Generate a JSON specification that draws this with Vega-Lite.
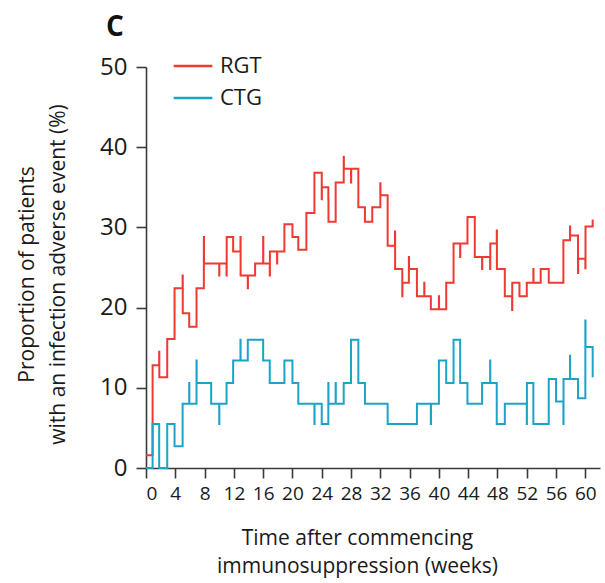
{
  "$schema": "https://vega.github.io/schema/vega-lite/v6.json",
  "autosize": {"type": "none"},
  "width": 454,
  "height": 401,
  "padding": {"left": 146, "top": 67, "right": 5, "bottom": 115},
  "config": {
    "font": "Open Sans",
    "view": {"stroke": null},
    "axis": {"grid": false, "domainColor": "#3a3a3a", "tickColor": "#3a3a3a", "domainWidth": 1.6, "tickWidth": 1.6, "labelColor": "#1a1a1a", "titleColor": "#1a1a1a", "titleFontWeight": "normal"}
  },
  "title": {"text": "C", "anchor": "start", "frame": "group", "dx": -40, "offset": -19, "baseline": "alphabetic", "fontSize": 28, "fontWeight": "bold", "color": "#111111", "font": "Open Sans"},
  "data": {"values": [
    {"g":"RGT","x":0,"y":1.6},{"g":"RGT","x":0.9,"y":12.8},{"g":"RGT","x":1.8,"y":14.5},{"g":"RGT","x":1.82,"y":11.3},
    {"g":"RGT","x":2.9,"y":16.1},{"g":"RGT","x":3.9,"y":22.4},{"g":"RGT","x":5.0,"y":24.0},{"g":"RGT","x":5.02,"y":19.3},
    {"g":"RGT","x":5.9,"y":17.6},{"g":"RGT","x":6.9,"y":22.4},{"g":"RGT","x":7.9,"y":28.8},{"g":"RGT","x":7.92,"y":25.5},
    {"g":"RGT","x":10.0,"y":24.0},{"g":"RGT","x":10.02,"y":25.5},{"g":"RGT","x":11.0,"y":24.0},{"g":"RGT","x":11.02,"y":28.8},
    {"g":"RGT","x":11.9,"y":27.0},{"g":"RGT","x":12.9,"y":28.8},{"g":"RGT","x":12.92,"y":24.0},{"g":"RGT","x":13.9,"y":22.4},
    {"g":"RGT","x":13.92,"y":24.0},{"g":"RGT","x":14.9,"y":25.5},{"g":"RGT","x":16.0,"y":28.8},{"g":"RGT","x":16.02,"y":25.5},
    {"g":"RGT","x":16.9,"y":24.0},{"g":"RGT","x":16.92,"y":27.0},{"g":"RGT","x":17.9,"y":25.5},{"g":"RGT","x":17.92,"y":27.0},
    {"g":"RGT","x":18.9,"y":30.4},{"g":"RGT","x":20.0,"y":28.8},{"g":"RGT","x":20.8,"y":27.2},{"g":"RGT","x":21.9,"y":31.8},
    {"g":"RGT","x":23.0,"y":36.8},{"g":"RGT","x":24.0,"y":33.5},{"g":"RGT","x":24.02,"y":35.0},{"g":"RGT","x":24.9,"y":33.5},
    {"g":"RGT","x":24.92,"y":30.7},{"g":"RGT","x":25.9,"y":35.6},{"g":"RGT","x":27.0,"y":38.8},{"g":"RGT","x":27.02,"y":37.3},
    {"g":"RGT","x":28.0,"y":35.6},{"g":"RGT","x":28.02,"y":37.3},{"g":"RGT","x":29.0,"y":32.5},{"g":"RGT","x":29.9,"y":30.7},
    {"g":"RGT","x":30.9,"y":32.5},{"g":"RGT","x":32.0,"y":35.5},{"g":"RGT","x":32.02,"y":34.0},{"g":"RGT","x":33.0,"y":27.7},
    {"g":"RGT","x":34.0,"y":29.5},{"g":"RGT","x":34.02,"y":24.8},{"g":"RGT","x":35.0,"y":21.4},{"g":"RGT","x":35.02,"y":23.1},
    {"g":"RGT","x":35.9,"y":26.3},{"g":"RGT","x":35.92,"y":24.8},{"g":"RGT","x":37.0,"y":21.4},{"g":"RGT","x":38.0,"y":23.1},
    {"g":"RGT","x":38.02,"y":21.4},{"g":"RGT","x":38.9,"y":19.8},{"g":"RGT","x":40.0,"y":21.4},{"g":"RGT","x":40.02,"y":19.8},
    {"g":"RGT","x":41.0,"y":23.1},{"g":"RGT","x":42.0,"y":28.0},{"g":"RGT","x":42.9,"y":26.3},{"g":"RGT","x":42.92,"y":28.0},
    {"g":"RGT","x":43.9,"y":31.3},{"g":"RGT","x":44.9,"y":26.3},{"g":"RGT","x":45.9,"y":24.8},{"g":"RGT","x":45.92,"y":26.3},
    {"g":"RGT","x":47.0,"y":24.8},{"g":"RGT","x":47.02,"y":28.0},{"g":"RGT","x":47.9,"y":29.6},{"g":"RGT","x":47.92,"y":24.8},
    {"g":"RGT","x":49.0,"y":21.4},{"g":"RGT","x":50.0,"y":19.7},{"g":"RGT","x":50.02,"y":23.1},{"g":"RGT","x":51.0,"y":21.4},
    {"g":"RGT","x":52.0,"y":23.1},{"g":"RGT","x":52.9,"y":24.8},{"g":"RGT","x":52.92,"y":23.1},{"g":"RGT","x":53.9,"y":24.8},
    {"g":"RGT","x":55.0,"y":23.1},{"g":"RGT","x":57.0,"y":28.4},{"g":"RGT","x":57.9,"y":30.1},{"g":"RGT","x":57.92,"y":29.0},
    {"g":"RGT","x":59.0,"y":24.3},{"g":"RGT","x":59.02,"y":26.1},{"g":"RGT","x":60.0,"y":24.9},{"g":"RGT","x":60.02,"y":30.1},
    {"g":"RGT","x":61.0,"y":31.0},
    {"g":"CTG","x":0,"y":0},{"g":"CTG","x":0.9,"y":5.5},{"g":"CTG","x":1.8,"y":0},{"g":"CTG","x":2.9,"y":5.5},
    {"g":"CTG","x":3.9,"y":2.7},{"g":"CTG","x":5.0,"y":8.0},{"g":"CTG","x":5.9,"y":10.6},{"g":"CTG","x":5.92,"y":8.0},
    {"g":"CTG","x":6.9,"y":13.4},{"g":"CTG","x":6.92,"y":10.6},{"g":"CTG","x":8.9,"y":8.0},{"g":"CTG","x":10.0,"y":5.5},
    {"g":"CTG","x":10.02,"y":8.0},{"g":"CTG","x":11.0,"y":10.6},{"g":"CTG","x":11.9,"y":13.4},{"g":"CTG","x":12.9,"y":16.0},
    {"g":"CTG","x":12.92,"y":13.4},{"g":"CTG","x":13.9,"y":16.0},{"g":"CTG","x":16.0,"y":13.4},{"g":"CTG","x":16.9,"y":10.6},
    {"g":"CTG","x":18.9,"y":13.4},{"g":"CTG","x":20.0,"y":10.6},{"g":"CTG","x":20.8,"y":8.0},{"g":"CTG","x":23.0,"y":5.5},
    {"g":"CTG","x":23.02,"y":8.0},{"g":"CTG","x":24.0,"y":5.5},{"g":"CTG","x":24.9,"y":10.6},{"g":"CTG","x":24.92,"y":8.0},
    {"g":"CTG","x":25.9,"y":10.6},{"g":"CTG","x":25.92,"y":8.0},{"g":"CTG","x":27.0,"y":10.6},{"g":"CTG","x":28.0,"y":16.0},
    {"g":"CTG","x":29.0,"y":10.6},{"g":"CTG","x":29.9,"y":8.0},{"g":"CTG","x":33.0,"y":5.5},{"g":"CTG","x":37.0,"y":8.0},
    {"g":"CTG","x":38.9,"y":5.5},{"g":"CTG","x":38.92,"y":8.0},{"g":"CTG","x":40.0,"y":13.4},{"g":"CTG","x":41.0,"y":10.6},
    {"g":"CTG","x":42.0,"y":16.0},{"g":"CTG","x":42.9,"y":10.6},{"g":"CTG","x":43.9,"y":8.0},{"g":"CTG","x":45.9,"y":10.6},
    {"g":"CTG","x":47.0,"y":13.4},{"g":"CTG","x":47.02,"y":10.6},{"g":"CTG","x":47.9,"y":5.5},{"g":"CTG","x":49.0,"y":8.0},
    {"g":"CTG","x":52.0,"y":5.5},{"g":"CTG","x":52.02,"y":10.6},{"g":"CTG","x":52.9,"y":5.5},{"g":"CTG","x":55.0,"y":11.1},
    {"g":"CTG","x":56.0,"y":8.3},{"g":"CTG","x":57.0,"y":5.5},{"g":"CTG","x":57.02,"y":11.1},{"g":"CTG","x":57.9,"y":14.0},
    {"g":"CTG","x":57.92,"y":11.1},{"g":"CTG","x":59.0,"y":8.7},{"g":"CTG","x":60.0,"y":18.4},{"g":"CTG","x":60.02,"y":15.1},
    {"g":"CTG","x":61.0,"y":11.3}
  ]},
  "mark": {"type": "line", "interpolate": "step-after", "strokeWidth": 2, "clip": false},
  "encoding": {
    "x": {
      "field": "x", "type": "quantitative",
      "scale": {"domain": [0, 62], "nice": false, "zero": true},
      "axis": {
        "values": [0,4,8,12,16,20,24,28,32,36,40,44,48,52,56,60],
        "tickSize": 10, "labelPadding": 6, "labelFontSize": 19, "labelFont": "Open Sans",
        "title": ["Time after commencing", "immunosuppression (weeks)"],
        "titleFontSize": 21, "titleFont": "Open Sans", "titleLineHeight": 28,
        "titleX": 211, "titleY": 59, "titleAlign": "center", "titleBaseline": "top"
      }
    },
    "y": {
      "field": "y", "type": "quantitative",
      "scale": {"domain": [0, 50], "nice": false, "zero": true},
      "axis": {
        "values": [0,10,20,30,40,50],
        "tickSize": 10, "labelPadding": 9, "labelFontSize": 24, "labelFont": "Open Sans",
        "title": ["Proportion of patients", "with an infection adverse event (%)"],
        "titleFontSize": 21, "titleFont": "Open Sans", "titleLineHeight": 31,
        "titleAngle": -90, "titleX": -130, "titleY": 207, "titleAlign": "center", "titleBaseline": "top"
      }
    },
    "color": {
      "field": "g", "type": "nominal",
      "scale": {"domain": ["RGT", "CTG"], "range": ["#ee3a32", "#1ba4c8"]},
      "legend": {
        "title": null, "orient": "none", "legendX": 26, "legendY": -22,
        "symbolType": "stroke", "symbolSize": 1500, "symbolStrokeWidth": 2.5,
        "labelFontSize": 22, "labelFont": "Open Sans", "labelColor": "#1a1a1a", "labelOffset": 6, "rowPadding": 0
      }
    }
  }
}
